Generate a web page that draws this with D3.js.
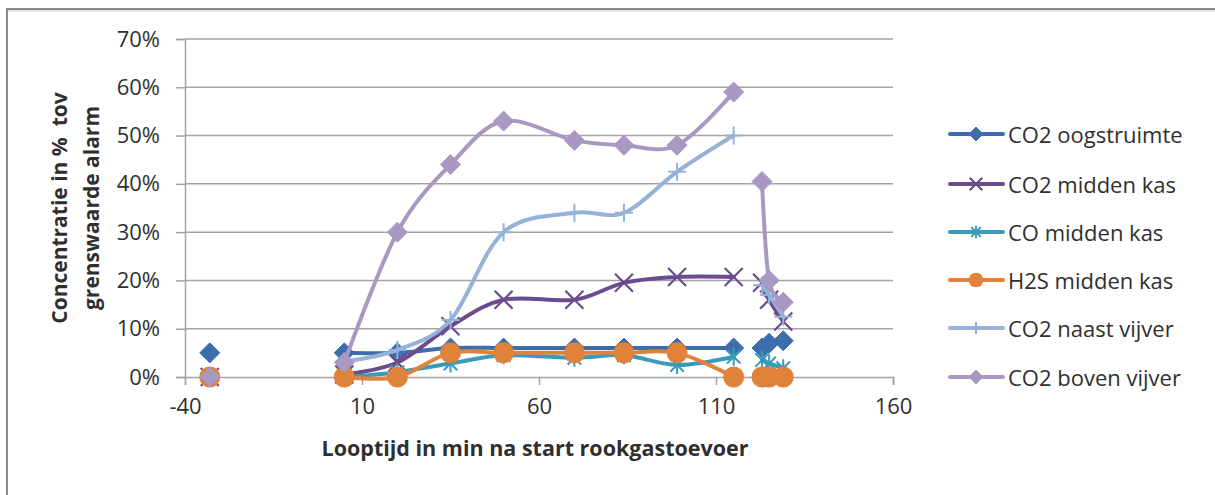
<!DOCTYPE html>
<html>
<head>
<meta charset="utf-8">
<script src="https://cdn.jsdelivr.net/npm/d3@7"></script>
<style>
  html, body { margin: 0; padding: 0; background: #fff; }
  svg { display: block; font-family: "Open Sans", "DejaVu Sans", sans-serif; }
</style>
</head>
<body>
<script>
// Sample times (minutes after start of flue-gas supply)
const times = [-33, 5, 20, 35, 50, 70, 84, 99, 115, 123, 125, 129];
// Measurement run of each sample; lines only join samples of the same run
const runs  = [0, 1, 1, 1, 1, 1, 1, 1, 1, 2, 2, 2];

// Concentrations as % of the alarm threshold
const co2Oogstruimte = [5, 5, 5, 6, 6, 6, 6, 6, 6, 6, 7, 7.5];
const co2MiddenKas   = [0, 0.5, 3, 10.5, 16, 16, 19.5, 20.7, 20.7, 19.5, 16, 11.5];
const coMiddenKas    = [0, 0, 1, 2.8, 4.5, 4, 4.5, 2.5, 4.2, 3.5, 2.8, 1.8];
const h2sMiddenKas   = [0, 0, 0, 5, 5, 5, 5, 5, 0, 0, 0, 0];
const co2NaastVijver = [0, 3.2, 5.6, 11.8, 30, 34, 34, 42.5, 50, 19, 17, 12.5];
const co2BovenVijver = [0, 3, 30, 44, 53, 49, 48, 48, 59, 40.5, 20, 15.5];

const seriesNames = ["CO2 oogstruimte", "CO2 midden kas", "CO midden kas",
                     "H2S midden kas", "CO2 naast vijver", "CO2 boven vijver"];
const seriesValues = [co2Oogstruimte, co2MiddenKas, coMiddenKas,
                      h2sMiddenKas, co2NaastVijver, co2BovenVijver];

const yTicks = [0, 0.1, 0.2, 0.3, 0.4, 0.5, 0.6, 0.7];
const xTicks = [-40, 10, 60, 110, 160];

const xTitle = "Looptijd in min na start rookgastoevoer";
const yTitle = ["Concentratie in %\u00a0 tov", "grenswaarde alarm"];

// Drawing styles per series
const styles = [
  { color: "#3d6eab", marker: "diamond" },
  { color: "#6c4b8f", marker: "cross" },
  { color: "#3a9ab9", marker: "star" },
  { color: "#e0823a", marker: "circle" },
  { color: "#96b2d9", marker: "plus" },
  { color: "#a898c2", marker: "diamond" }
];

const W = 1215, H = 495;
const svg = d3.select("body").append("svg").attr("width", W).attr("height", H);

// Chart frame
svg.append("rect").attr("x", 7).attr("y", 9).attr("width", W + 20).attr("height", H + 20)
  .attr("fill", "#fff").attr("stroke", "#8a8a8a").attr("stroke-width", 2);
svg.append("line").attr("x1", 8).attr("x2", W).attr("y1", 10.8).attr("y2", 10.8)
  .attr("stroke", "#d0d0d0").attr("stroke-width", 1);

const x = d3.scaleLinear().domain([-40, 160]).range([185, 893]);
const y = d3.scaleLinear().domain([0, 0.7]).range([377, 39]);

const textColor = "#2f2f2f";
const gridColor = "#a3a3a3";

// Horizontal gridlines
svg.append("g").selectAll("line").data(yTicks.slice(1)).join("line")
  .attr("x1", x(-40)).attr("x2", x(160))
  .attr("y1", d => y(d)).attr("y2", d => y(d))
  .attr("stroke", gridColor).attr("stroke-width", 1.5);

// Y axis
const yAxis = svg.append("g").attr("transform", `translate(${x(-40)},0)`)
  .call(d3.axisLeft(y).tickValues(yTicks).tickFormat(d3.format(".0%")).tickSize(9).tickPadding(16));
yAxis.select(".domain").attr("stroke", gridColor).attr("stroke-width", 1.5);
yAxis.selectAll(".tick line").attr("stroke", gridColor).attr("stroke-width", 1.5);
yAxis.selectAll(".tick text").attr("fill", textColor).style("font-size", "22px")
  .style("font-family", "'Open Sans', sans-serif");

// X axis (plain hyphen for negative numbers)
const xAxis = svg.append("g").attr("transform", `translate(0,${y(0)})`)
  .call(d3.axisBottom(x).tickValues(xTicks).tickFormat(d => String(d)).tickSize(8).tickPadding(13));
xAxis.select(".domain").attr("stroke", gridColor).attr("stroke-width", 1.5);
xAxis.selectAll(".tick line").attr("stroke", gridColor).attr("stroke-width", 1.5);
xAxis.selectAll(".tick text").attr("fill", textColor).style("font-size", "22px")
  .style("font-family", "'Open Sans', sans-serif");

// Axis titles
svg.append("text").attr("x", 535).attr("y", 447).attr("text-anchor", "middle")
  .attr("dominant-baseline", "central")
  .style("font-size", "21.5px").style("font-weight", "bold").attr("fill", textColor)
  .text(xTitle);

const yt = svg.append("g").attr("transform", "translate(0,208) rotate(-90)");
yTitle.forEach((t, i) => {
  yt.append("text").attr("x", 0).attr("y", i === 0 ? 59 : 91)
    .attr("text-anchor", "middle").attr("dominant-baseline", "central")
    .style("font-size", "21px").style("font-weight", "bold").attr("fill", textColor)
    .text(t);
});

// Marker drawing
function drawMarker(g, type, color, s) {
  const r = s / 2;
  if (type === "diamond") {
    g.append("path").attr("d", `M0,${-r}L${r},0L0,${r}L${-r},0Z`)
      .attr("fill", color).attr("stroke", color).attr("stroke-width", 1).attr("stroke-linejoin", "round");
  } else if (type === "circle") {
    g.append("circle").attr("r", r).attr("fill", color);
  } else if (type === "cross") {
    const a = r * 0.9;
    g.append("path").attr("d", `M${-a},${-a}L${a},${a}M${-a},${a}L${a},${-a}`)
      .attr("stroke", color).attr("stroke-width", 2.2).attr("fill", "none");
  } else if (type === "star") {
    const a = r * 0.75;
    g.append("path").attr("d", `M${-a},${-a}L${a},${a}M${-a},${a}L${a},${-a}M0,${-r}L0,${r}`)
      .attr("stroke", color).attr("stroke-width", 2).attr("fill", "none");
  } else if (type === "plus") {
    g.append("path").attr("d", `M${-r},0L${r},0M0,${-r}L0,${r}`)
      .attr("stroke", color).attr("stroke-width", 2).attr("fill", "none");
  }
}

const line = d3.line()
  .x(d => x(d.t))
  .y(d => y(d.v / 100))
  .curve(d3.curveCardinal);

const markerSize = { diamond: 20, circle: 21, cross: 20, star: 18, plus: 18 };

seriesValues.forEach((vals, si) => {
  const st = styles[si];
  const pts = vals.map((v, i) => ({ t: times[i], v, run: runs[i] }));
  const groups = d3.groups(pts, d => d.run).map(g => g[1]);
  const g = svg.append("g");
  groups.filter(seg => seg.length > 1).forEach(seg => {
    g.append("path").attr("d", line(seg)).attr("fill", "none")
      .attr("stroke", st.color).attr("stroke-width", 4)
      .attr("stroke-linejoin", "round").attr("stroke-linecap", "round");
  });
  pts.forEach(p => {
    const mg = g.append("g").attr("transform", `translate(${x(p.t)},${y(p.v / 100)})`);
    drawMarker(mg, st.marker, st.color, markerSize[st.marker]);
  });
});

// Legend
const legendRows = [134, 184, 232, 280, 328, 377];
const legend = svg.append("g");
seriesNames.forEach((name, i) => {
  const st = styles[i];
  const ly = legendRows[i];
  legend.append("line").attr("x1", 950).attr("x2", 1003).attr("y1", ly).attr("y2", ly)
    .attr("stroke", st.color).attr("stroke-width", 4).attr("stroke-linecap", "round");
  const mg = legend.append("g").attr("transform", `translate(976,${ly})`);
  drawMarker(mg, st.marker, st.color, markerSize[st.marker] * 0.7);
  legend.append("text").attr("x", 1008).attr("y", ly).attr("dominant-baseline", "central")
    .style("font-size", "22px").attr("fill", textColor).text(name);
});
</script>
</body>
</html>
